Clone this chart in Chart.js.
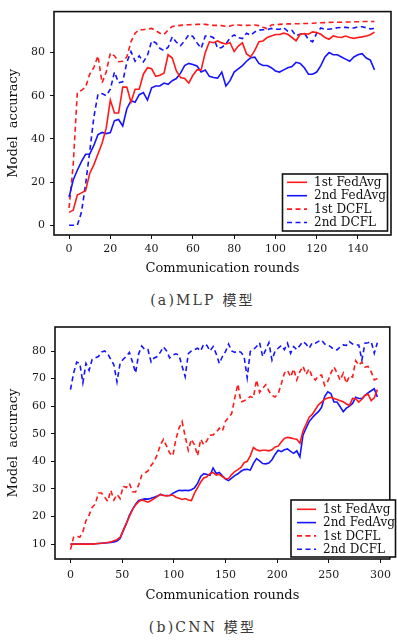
<!DOCTYPE html>
<html>
<head>
<meta charset="utf-8">
<title>MLP / CNN accuracy</title>
<script src="https://cdn.jsdelivr.net/npm/chart.js@4.4.1/dist/chart.umd.min.js"></script>
<style>
  html, body { margin: 0; padding: 0; background: #fff; }
  body { width: 397px; height: 640px; position: relative; overflow: hidden; }
  .wrap { position: absolute; left: 0; width: 397px; }
  #wrapMlp { top: 0; height: 276px; }
  #wrapCnn { top: 312px; height: 291px; }
  .cap {
    position: absolute; left: 4px; width: 397px; text-align: center;
    font-family: 'DejaVu Serif', 'Noto Sans CJK SC', serif;
    font-size: 14px; line-height: 18px; color: #3a3a3a; letter-spacing: 2.2px;
  }
</style>
</head>
<body>
<div class="wrap" id="wrapMlp"><canvas id="chartMlp"></canvas></div>
<div class="cap" style="top:291px">(a)MLP 模型</div>
<div class="wrap" id="wrapCnn"><canvas id="chartCnn"></canvas></div>
<div class="cap" style="top:618px">(b)CNN 模型</div>

<script>
// --- DATOS ---
const FONT = 'DejaVu Serif';
const RED = '#ff1a1a';
const BLUE = '#1414ff';

const seriesLabels = ['1st FedAvg', '2nd FedAvg', '1st DCFL', '2nd DCFL'];

// (a) MLP: un valor cada 2 rondas (0..148)
const MLP_STEP = 2;
const mlpTicksX = [0, 20, 40, 60, 80, 100, 120, 140];
const mlpTicksY = [0, 20, 40, 60, 80];

const mlpFedAvg1 = [
  6, 7, 14, 15, 16, 24, 28, 33, 38, 45,
  58, 52, 52, 64, 64, 57, 63, 63, 70, 73,
  72.5, 69, 69.5, 70.5, 79, 77.5, 71.5, 68.5, 68, 65.9,
  69.5, 72, 72, 80, 85, 84.6, 85.4, 84.5, 84, 84.6,
  80.5, 83, 84.5, 79.4, 78, 81, 85, 85.4, 87, 87.7,
  88.4, 88.4, 89, 88.5, 87, 85.5, 88.5, 88.8, 88.5, 89.6,
  89.3, 88.5, 87, 86.2, 87.7, 87.2, 87, 87.7, 87, 86.6,
  87, 87.3, 87.7, 88.3, 89.5
];
const mlpFedAvg2 = [
  13, 21, 25.5, 29.5, 32.9, 33, 37, 42, 43, 42.5,
  43, 48.5, 49, 46, 54, 57.7, 57, 60.5, 61.5, 58,
  63.7, 64.5, 64.6, 65.9, 65.3, 67, 68, 70.5, 74, 75,
  74.5, 73.8, 71, 71.9, 69, 68.5, 68.2, 71, 64.5, 67,
  71, 72.5, 74, 76, 77.6, 77.9, 75, 74, 74, 73,
  71.5, 71, 72, 73, 73.5, 75.5, 75, 73, 70, 70,
  71, 74, 78, 80, 79, 79, 78, 77, 76, 78,
  79, 79.5, 77.5, 76.5, 72
];
const mlpDcfl1 = [
  8, 28, 61.5, 62.5, 64, 70, 73, 78.5, 66, 71,
  79.8, 78.5, 75.8, 76, 78, 85, 89, 90.6, 90.6, 91,
  91.2, 90.2, 89, 88.4, 90.5, 92.1, 92.4, 92.6, 92.8, 92.9,
  93, 93.1, 93.2, 93.1, 92.8, 92.6, 92.6, 92.5, 92.2, 92.3,
  92.9, 92.8, 92.6, 92.6, 92.7, 92.8, 92.5, 91.7, 91.1, 92.8,
  93, 93.1, 93.2, 93.3, 93.3, 93.4, 93.4, 93.5, 93.5, 93.6,
  93.7, 93.8, 93.9, 94, 94.1, 94.1, 94.1, 94.2, 94.2, 94.3,
  94.3, 94.4, 94.4, 94.4, 94.4
];
const mlpDcfl2 = [
  0, 0, 0, 6, 19, 34, 50, 60.7, 61, 60,
  63, 71, 66, 66.5, 75.5, 80.5, 76, 78.5, 75.7, 78.7,
  85.4, 84.6, 82, 80.9, 82.5, 87.3, 84.8, 83.2, 85.5, 88.3,
  87.5, 84.5, 82, 87.7, 87.7, 86.9, 82, 82.4, 84, 86.8,
  88.2, 86.9, 86.5, 89, 88, 89.6, 90.4, 90.6, 90.6, 91.2,
  90.8, 90.8, 91.5, 89.9, 90.3, 87.8, 88.5, 89, 86.1, 85,
  89, 91.4, 90.8, 90.8, 91.1, 91.5, 91.7, 91.7, 91.5, 91.4,
  92, 92, 91.5, 91, 91.2
];

// (b) CNN: un valor cada 3 rondas (0..297)
const CNN_STEP = 3;
const cnnTicksX = [0, 50, 100, 150, 200, 250, 300];
const cnnTicksY = [10, 20, 30, 40, 50, 60, 70, 80];

const cnnFedAvg1 = [
  10, 10, 10, 10, 10, 10, 10, 10, 10.1, 10.2,
  10.3, 10.4, 10.6, 10.8, 11.2, 11.6, 12.5, 15, 17.4, 20,
  22.5, 24.2, 25.4, 26, 25.6, 25.2, 25.8, 26.5, 27.2, 28,
  27.6, 27.5, 27.6, 27.8, 27, 26.6, 26.2, 26.5, 26, 25.8,
  28.5, 30.5, 32.5, 34, 34.4, 35.5, 36, 35, 35.3, 34.5,
  33.7, 33.8, 35.2, 36.3, 37, 37.8, 39.5, 40, 42, 45,
  44.2, 43.8, 44, 44, 43.8, 44.2, 45.2, 45.5, 47, 48.3,
  48.7, 48.5, 48.2, 48, 46.6, 51, 53.4, 56, 57, 58.8,
  60.5, 61.5, 62.5, 63, 63.2, 62.8, 62.4, 62, 61.6, 60.8,
  60.3, 62.8, 62.7, 61.5, 62.5, 63.9, 64.4, 62, 63, 66
];
const cnnFedAvg2 = [
  10, 10, 10, 10, 10, 10, 10, 10, 10.1, 10.2,
  10.3, 10.4, 10.5, 10.6, 10.8, 11.1, 12, 14.8, 17.4, 20.4,
  22.6, 24.5, 25.8, 26.2, 26.4, 26.3, 26.6, 27, 27.4, 28,
  27.7, 27.6, 27.6, 28.4, 29, 29.5, 29.4, 29.5, 29.4, 29.7,
  30.4, 32, 34.5, 35.5, 35.2, 34.9, 37.6, 35.6, 36, 34.8,
  33.6, 33, 33.9, 34.8, 35.5, 36.4, 37, 37.1, 36.8, 39.2,
  41, 40.2, 39.2, 39.1, 39.4, 40.6, 42.5, 44, 43.5, 44.2,
  44.5, 43.6, 42.9, 43.8, 41.6, 49.5, 52, 54.4, 55.8, 57,
  58, 59.6, 63.5, 65.2, 64.6, 61.5, 61.5, 59.8, 58, 59.3,
  60, 61, 63.2, 62.8, 62.8, 63.9, 64.8, 65.6, 66.3, 63.3
];
const cnnDcfl1 = [
  8, 12.5, 13, 12.5, 14.5, 18.5, 20.5, 23.4, 24.5, 28.5,
  28.5, 27, 25.5, 29.5, 26, 28, 26.5, 31, 30.5, 32,
  29, 28.9, 31.5, 35, 35.8, 36.5, 38.5, 40, 42.5, 46,
  48, 45.5, 43, 42, 48, 52, 54.4, 49, 44, 48,
  46, 42, 48, 46, 47.5, 49.5, 49.6, 50.5, 52, 51,
  54.5, 56, 57.3, 63, 68, 61.5, 62, 62.5, 63.5, 63,
  69.5, 65, 66.5, 67.8, 65.5, 64, 63.3, 64.5, 68, 72,
  73, 70.6, 73.5, 69.5, 72.5, 74.5, 71.5, 73.5, 70.5, 69.5,
  71, 71.3, 67.5, 69, 72, 74.2, 72, 69.4, 72, 68.3,
  71, 70.5, 76.5, 74.8, 76, 74.2, 74.4, 72.5, 69.5, 70
];
const cnnDcfl2 = [
  66, 72, 76, 75.5, 68.5, 75.5, 73, 77, 77.5, 78,
  79.6, 80, 79, 77, 75, 68.8, 75.5, 77, 78, 79.5,
  76, 72, 79, 81.8, 80.5, 80.5, 76, 77.5, 78, 79.6,
  81.5, 80, 77.5, 78.5, 79, 78.5, 74.5, 70.7, 79, 80,
  80.5, 81, 80, 82.5, 82, 80, 81.6, 79, 75.5, 78,
  79.8, 82.5, 80, 79.5, 80, 79.5, 78, 70.3, 79.8, 80.5,
  81.6, 83, 78, 80.5, 83, 76.7, 80, 81, 82, 80.5,
  82.8, 79.2, 81.6, 80.5, 82, 83.4, 82.5, 81, 83, 82.8,
  83.5, 84, 82.5, 82.2, 81.5, 80.5, 80.4, 81.5, 82.2, 82,
  83.4, 82.5, 82.2, 82.2, 76.7, 82.8, 83, 83.4, 79.2, 83
];

// --- PLUGINS ---
// Marco negro alrededor del area de trazado
const plotFrame = {
  id: 'plotFrame',
  afterDatasetsDraw(chart) {
    const { ctx, chartArea: a } = chart;
    ctx.save();
    ctx.strokeStyle = '#111';
    ctx.lineWidth = 1.6;
    ctx.strokeRect(a.left, a.top, a.right - a.left, a.bottom - a.top);
    ctx.restore();
  }
};

// Leyenda con recuadro, dentro del grafico (esquina inferior derecha)
const boxLegend = {
  id: 'boxLegend',
  afterDraw(chart, args, o) {
    const ctx = chart.ctx;
    ctx.save();
    ctx.fillStyle = '#fff';
    ctx.fillRect(o.left, o.top, o.width, o.height);
    ctx.strokeStyle = '#111';
    ctx.lineWidth = 1.6;
    ctx.strokeRect(o.left, o.top, o.width, o.height);
    ctx.font = `12px "${FONT}"`;
    ctx.textBaseline = 'middle';
    chart.data.datasets.forEach((ds, i) => {
      const y = o.top + o.firstRow + i * o.rowH;
      ctx.beginPath();
      ctx.setLineDash(ds.borderDash || []);
      ctx.strokeStyle = ds.borderColor;
      ctx.lineWidth = 1.6;
      ctx.moveTo(o.left + o.lineX0, y);
      ctx.lineTo(o.left + o.lineX1, y);
      ctx.stroke();
      ctx.setLineDash([]);
      ctx.fillStyle = '#111';
      ctx.fillText(ds.label, o.left + o.textX, y + 0.5);
    });
    ctx.restore();
  }
};

function toPoints(vals, step) {
  return vals.map((v, i) => ({ x: i * step, y: v }));
}

function makeDatasets(lists, step) {
  const colors = [RED, BLUE, RED, BLUE];
  return lists.map((vals, i) => ({
    label: seriesLabels[i],
    data: toPoints(vals, step),
    borderColor: colors[i],
    borderWidth: 1.6,
    borderDash: i >= 2 ? [5, 3.5] : [],
    pointRadius: 0,
    tension: 0,
    fill: false
  }));
}

function makeChart(canvasId, cfg) {
  const tickFont = { family: FONT, size: 11 };
  const titleFont = { family: FONT, size: 13 };
  return new Chart(document.getElementById(canvasId), {
    type: 'line',
    data: { datasets: makeDatasets(cfg.series, cfg.step) },
    plugins: [plotFrame, boxLegend],
    options: {
      responsive: true,
      maintainAspectRatio: false,
      animation: false,
      layout: { padding: cfg.padding },
      plugins: {
        legend: { display: false },
        tooltip: { enabled: false },
        boxLegend: cfg.legend
      },
      scales: {
        x: {
          type: 'linear',
          min: cfg.xMin,
          max: cfg.xMax,
          afterBuildTicks: s => { s.ticks = cfg.xTicks.map(v => ({ value: v })); },
          afterFit: s => { s.height = cfg.xHeight; },
          grid: { drawOnChartArea: false, drawTicks: true, tickLength: 4, color: '#111' },
          border: { display: false },
          ticks: { font: tickFont, color: '#1a1a1a', padding: cfg.xTickPad, autoSkip: false, maxRotation: 0 },
          title: { display: true, text: 'Communication rounds', font: titleFont, color: '#111', padding: 0 }
        },
        y: {
          min: cfg.yMin,
          max: cfg.yMax,
          afterBuildTicks: s => { s.ticks = cfg.yTicks.map(v => ({ value: v })); },
          afterFit: s => { s.width = cfg.yWidth; },
          grid: { drawOnChartArea: false, drawTicks: true, tickLength: 4, color: '#111' },
          border: { display: false },
          ticks: { font: tickFont, color: '#1a1a1a', padding: 5, autoSkip: false },
          title: { display: true, text: 'Model  accuracy', font: titleFont, color: '#111', padding: { top: 6 } }
        }
      }
    }
  });
}

// (a) MLP
makeChart('chartMlp', {
  series: [mlpFedAvg1, mlpFedAvg2, mlpDcfl1, mlpDcfl2],
  step: MLP_STEP,
  xMin: -7.3, xMax: 156, xTicks: mlpTicksX,
  yMin: -4.5, yMax: 99, yTicks: mlpTicksY,
  padding: { top: 5, right: 6, left: 0, bottom: 0 },
  xHeight: 41, yWidth: 54, xTickPad: 4,
  legend: { left: 282.5, top: 174, width: 105, height: 57, firstRow: 8.3, rowH: 13.4, lineX0: 4.5, lineX1: 24.5, textX: 31.5 }
});

// (b) CNN
makeChart('chartCnn', {
  series: [cnnFedAvg1, cnnFedAvg2, cnnDcfl1, cnnDcfl2],
  step: CNN_STEP,
  xMin: -15, xMax: 309, xTicks: cnnTicksX,
  yMin: 4.6, yMax: 88.7, yTicks: cnnTicksY,
  padding: { top: 15, right: 1, left: 0, bottom: 0 },
  xHeight: 44, yWidth: 55, xTickPad: 6,
  legend: { left: 291, top: 188, width: 104.5, height: 57, firstRow: 9.3, rowH: 13.3, lineX0: 6, lineX1: 25, textX: 32 }
});
</script>
</body>
</html>
